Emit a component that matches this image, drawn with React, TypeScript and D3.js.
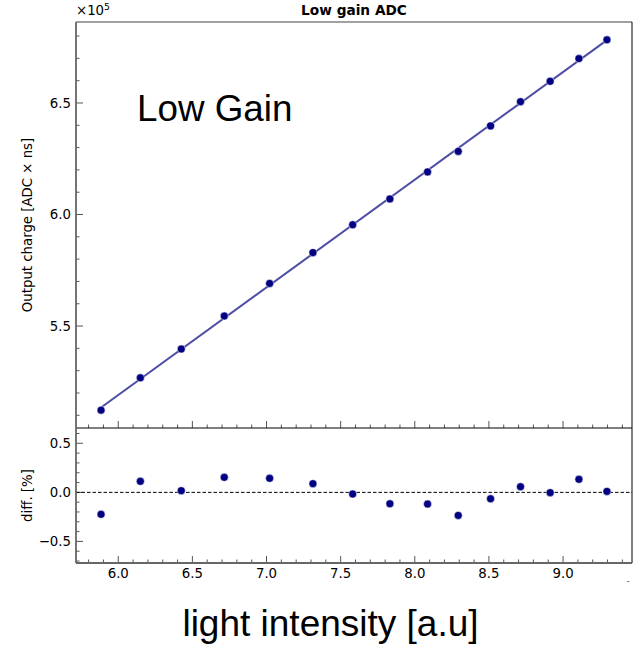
import React from "react";
import * as d3 from "d3";

const intensity = [5.884, 6.149, 6.425, 6.715, 7.021, 7.313, 7.581, 7.832, 8.086, 8.293, 8.511, 8.713, 8.913, 9.107, 9.296];
const charge = [512300, 526800, 539700, 554500, 569100, 582900, 595400, 607000, 619100, 628300, 639700, 650600, 659700, 669900, 678300];
const diffPct = [-0.224, 0.112, 0.017, 0.153, 0.143, 0.089, -0.017, -0.116, -0.119, -0.235, -0.065, 0.058, -0.003, 0.133, 0.01];

const xTicks = [6.0, 6.5, 7.0, 7.5, 8.0, 8.5, 9.0];
const mainYTicks = [5.5, 6.0, 6.5];
const diffYTicks = [-0.5, 0.0, 0.5];

const W = 633, H = 645;
const L = 76, R = 632;
const mainTop = 22, mainBot = 428;
const diffTop = 428, diffBot = 563;

const FONT = "DejaVu Sans, sans-serif";
const ARIAL = "Liberation Sans, Arial, sans-serif";
const TICKC = "#555";

export default function App() {
  const x = d3.scaleLinear().domain([5.715, 9.465]).range([L, R]);
  const y = d3.scaleLinear().domain([5.043, 6.863]).range([mainBot, mainTop]);
  const yd = d3.scaleLinear().domain([-0.72, 0.656]).range([diffBot, diffTop]);

  // linear fit
  const n = intensity.length;
  const mx = d3.mean(intensity)!;
  const my = d3.mean(charge)!;
  let sxy = 0, sxx = 0;
  for (let i = 0; i < n; i++) {
    sxy += (intensity[i] - mx) * (charge[i] - my);
    sxx += (intensity[i] - mx) ** 2;
  }
  const slope = sxy / sxx;
  const icpt = my - slope * mx;
  const x0 = intensity[0], x1 = intensity[n - 1];
  const line = d3.line<number>().x(v => x(v)).y(v => y((slope * v + icpt) / 1e5));

  const xMinor = d3.range(57, 95).map(v => v / 10).filter(v => v > 5.715 && v < 9.465);
  const yMinor = d3.range(50, 69).map(v => v / 10).filter(v => v > 5.043 && v < 6.863);
  const dMinor = d3.range(-7, 7).map(v => v / 10).filter(v => v > -0.72 && v < 0.656);
  const isMajor = (v: number, step: number) => Math.abs(v / step - Math.round(v / step)) < 1e-6;

  const fmt = (v: number) => (v < 0 ? "\u2212" : "") + Math.abs(v).toFixed(1);

  return (
    <svg width={W} height={H} style={{ position: "absolute", left: 0, top: 0, background: "#fff" }}>
      {/* titles */}
      <text x={354} y={15} textAnchor="middle" fontFamily={FONT} fontWeight="bold" fontSize={13.7}>Low gain ADC</text>
      <text x={76} y={15} fontFamily={FONT} fontSize={13.3}>
        ×10<tspan dy={-5.5} fontSize={9.3}>5</tspan>
      </text>

      {/* main panel ticks */}
      {yMinor.map(v => (
        <line key={"ym" + v} x1={L} x2={L + (isMajor(v, 0.5) ? 7 : 3.5)} y1={y(v)} y2={y(v)} stroke={TICKC} strokeWidth={1} />
      ))}
      {mainYTicks.map(v => (
        <text key={"yt" + v} x={L - 5} y={y(v) + 4.8} textAnchor="end" fontFamily={FONT} fontSize={13.3}>{fmt(v)}</text>
      ))}
      {xMinor.map(v => (
        <line key={"xm" + v} x1={x(v)} x2={x(v)} y1={mainBot} y2={mainBot - (isMajor(v, 0.5) ? 7 : 3.5)} stroke={TICKC} strokeWidth={1} />
      ))}

      {/* fit line and points */}
      <path d={line([x0, x1])!} stroke="#4d4da6" strokeWidth={2} fill="none" />
      {intensity.map((v, i) => (
        <circle key={"p" + i} cx={x(v)} cy={y(charge[i] / 1e5)} r={4} fill="#000080" stroke="#fff" strokeWidth={0.5} />
      ))}
      <text x={137} y={121} fontFamily={ARIAL} fontSize={36.8}>Low Gain</text>

      {/* diff panel */}
      {dMinor.map(v => (
        <line key={"dm" + v} x1={L} x2={L + (isMajor(v, 0.5) ? 7 : 3.5)} y1={yd(v)} y2={yd(v)} stroke={TICKC} strokeWidth={1} />
      ))}
      {diffYTicks.map(v => (
        <text key={"dt" + v} x={L - 5} y={yd(v) + 4.8} textAnchor="end" fontFamily={FONT} fontSize={13.3}>{fmt(v)}</text>
      ))}
      {xMinor.map(v => (
        <line key={"dxm" + v} x1={x(v)} x2={x(v)} y1={diffBot} y2={diffBot - (isMajor(v, 0.5) ? 7 : 3.5)} stroke={TICKC} strokeWidth={1} />
      ))}
      {xTicks.map(v => (
        <text key={"xt" + v} x={x(v)} y={578} textAnchor="middle" fontFamily={FONT} fontSize={13.3}>{v.toFixed(1)}</text>
      ))}
      <line x1={L} x2={R} y1={yd(0)} y2={yd(0)} stroke="#000" strokeWidth={1} strokeDasharray="3.5,2" />
      {intensity.map((v, i) => (
        <circle key={"d" + i} cx={x(v)} cy={yd(diffPct[i])} r={4} fill="#000080" stroke="#fff" strokeWidth={0.5} />
      ))}

      {/* spines */}
      <line x1={L} x2={R} y1={mainTop} y2={mainTop} stroke="#444" strokeWidth={1.2} />
      <line x1={R} x2={R} y1={mainTop} y2={diffBot} stroke="#000" strokeWidth={1} />
      <line x1={L} x2={R} y1={diffTop} y2={diffTop} stroke="#000" strokeWidth={1.2} />
      <line x1={L} x2={L} y1={mainTop} y2={diffBot} stroke="#666" strokeWidth={1.8} />
      <line x1={L} x2={R} y1={diffBot} y2={diffBot} stroke="#666" strokeWidth={1.8} />

      {/* axis labels */}
      <text transform={`translate(31.5,${(mainTop + mainBot) / 2}) rotate(-90)`} textAnchor="middle" fontFamily={FONT} fontSize={13.3}>Output charge [ADC × ns]</text>
      <text transform={`translate(31.5,${(diffTop + diffBot) / 2}) rotate(-90)`} textAnchor="middle" fontFamily={FONT} fontSize={13.3}>diff. [%]</text>
      <text x={330.5} y={636} textAnchor="middle" fontFamily={ARIAL} fontSize={37}>light intensity [a.u]</text>
      <text x={628} y={584} textAnchor="middle" fontFamily={FONT} fontSize={9} fill="#555">-</text>
    </svg>
  );
}
